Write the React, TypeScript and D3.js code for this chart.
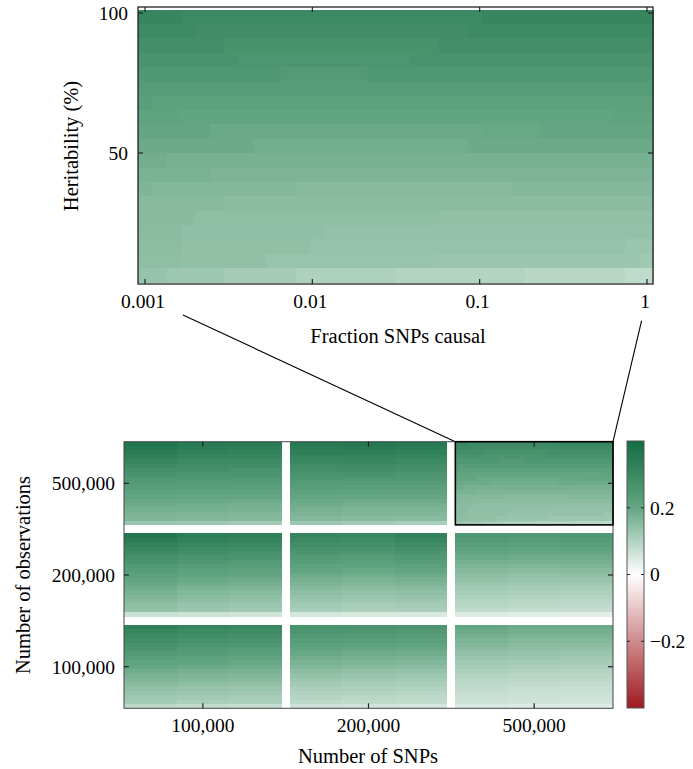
import React from "react";
import * as d3 from "d3";

// ---------- data ----------
const fractionCausal = [
  0.001, 0.001218, 0.001484, 0.001808, 0.002203, 0.002683, 0.00327, 0.003981, 0.004851,
  0.00591, 0.007197, 0.00877, 0.01068, 0.01301, 0.01585, 0.01931, 0.02352, 0.02866,
  0.0349, 0.04252, 0.0518, 0.0631, 0.07686, 0.09363, 0.1141, 0.1389, 0.1693, 0.2062,
  0.2512, 0.3059, 0.3728, 0.454, 0.5532, 0.6739, 0.8209, 1,
];
const heritabilityRows = [100, 95, 90, 85, 80, 75, 70, 65, 60, 55, 50, 45, 40, 35, 30, 25, 20, 15, 10];
const fracTicks = [0.001, 0.01, 0.1, 1];
const fracTickLabels = ["0.001", "0.01", "0.1", "1"];
const heritTicks = [100, 50];
const snpLabels = ["100,000", "200,000", "500,000"];
const obsLabels = ["500,000", "200,000", "100,000"];
const colorTicks = [0.2, 0, -0.2];
const colorTickLabels = ["0.2", "0", "\u22120.2"];
const colorStops = [-0.4, -0.2, 0, 0.2, 0.4];
const colorRange = ["#9e1a20", "#d08b8d", "#ffffff", "#64a683", "#136c42"];

// top heatmap (500,000 obs / 500,000 SNPs): rows of [startColumn, value] runs
const topH100 = [[0, 0.31], [3, 0.3], [24, 0.31]];
const topH95 = [[0, 0.295], [4, 0.285], [23, 0.295]];
const topH90 = [[0, 0.28], [6, 0.27], [21, 0.28]];
const topH85 = [[0, 0.265], [7, 0.255], [19, 0.265]];
const topH80 = [[0, 0.25], [10, 0.24], [16, 0.25]];
const topH75 = [[0, 0.235]];
const topH70 = [[0, 0.225], [1, 0.218]];
const topH65 = [[0, 0.212], [3, 0.205], [33, 0.212]];
const topH60 = [[0, 0.2], [5, 0.192], [24, 0.196], [28, 0.2]];
const topH55 = [[0, 0.19], [8, 0.183], [23, 0.19]];
const topH50 = [[0, 0.182], [2, 0.176]];
const topH45 = [[0, 0.172], [5, 0.166]];
const topH40 = [[0, 0.165], [1, 0.16], [11, 0.155], [26, 0.16]];
const topH35 = [[0, 0.155], [6, 0.15]];
const topH30 = [[0, 0.152], [4, 0.146], [21, 0.142]];
const topH25 = [[0, 0.15], [3, 0.144], [13, 0.139]];
const topH20 = [[0, 0.148], [3, 0.142], [12, 0.136], [34, 0.13]];
const topH15 = [[0, 0.146], [3, 0.14], [9, 0.133], [21, 0.128], [35, 0.122]];
const topH10 = [[0, 0.135], [2, 0.125], [6, 0.115], [11, 0.105], [18, 0.097], [27, 0.09], [34, 0.082]];
const topRuns = [
  topH100, topH95, topH90, topH85, topH80, topH75, topH70, topH65, topH60, topH55,
  topH50, topH45, topH40, topH35, topH30, topH25, topH20, topH15, topH10,
];

// bottom panels: values per heritability row for left / middle / right thirds
const obs500kSnp100kL = [0.37, 0.355, 0.34, 0.325, 0.31, 0.295, 0.28, 0.265, 0.25, 0.24, 0.228, 0.216, 0.205, 0.195, 0.186, 0.178, 0.17, 0.163, 0.13];
const obs500kSnp100kM = [0.35, 0.34, 0.327, 0.314, 0.3, 0.287, 0.274, 0.26, 0.247, 0.236, 0.225, 0.213, 0.202, 0.192, 0.183, 0.175, 0.167, 0.16, 0.125];
const obs500kSnp100kR = [0.345, 0.335, 0.322, 0.31, 0.297, 0.284, 0.27, 0.257, 0.244, 0.233, 0.222, 0.21, 0.2, 0.19, 0.18, 0.172, 0.164, 0.156, 0.118];
const obs500kSnp200kL = [0.355, 0.343, 0.33, 0.317, 0.303, 0.29, 0.277, 0.263, 0.25, 0.238, 0.226, 0.214, 0.203, 0.193, 0.184, 0.176, 0.168, 0.16, 0.125];
const obs500kSnp200kM = [0.36, 0.347, 0.333, 0.32, 0.306, 0.292, 0.278, 0.264, 0.25, 0.237, 0.225, 0.213, 0.201, 0.19, 0.18, 0.171, 0.163, 0.155, 0.118];
const obs500kSnp200kR = [0.35, 0.34, 0.327, 0.313, 0.3, 0.287, 0.273, 0.26, 0.247, 0.235, 0.223, 0.211, 0.2, 0.19, 0.18, 0.171, 0.162, 0.153, 0.112];
const obs200kSnp100kL = [0.365, 0.345, 0.327, 0.31, 0.293, 0.277, 0.262, 0.247, 0.233, 0.22, 0.207, 0.195, 0.184, 0.173, 0.163, 0.154, 0.146, 0.138, 0.07];
const obs200kSnp100kM = [0.34, 0.325, 0.31, 0.295, 0.28, 0.265, 0.25, 0.236, 0.222, 0.209, 0.196, 0.184, 0.173, 0.162, 0.152, 0.143, 0.135, 0.127, 0.065];
const obs200kSnp100kR = [0.33, 0.317, 0.302, 0.287, 0.272, 0.257, 0.243, 0.229, 0.215, 0.202, 0.19, 0.178, 0.167, 0.156, 0.146, 0.137, 0.129, 0.121, 0.06];
const obs200kSnp200kL = [0.315, 0.3, 0.285, 0.27, 0.256, 0.242, 0.228, 0.215, 0.202, 0.19, 0.178, 0.167, 0.156, 0.146, 0.137, 0.128, 0.12, 0.112, 0.055];
const obs200kSnp200kM = [0.305, 0.292, 0.278, 0.264, 0.25, 0.236, 0.222, 0.209, 0.196, 0.184, 0.172, 0.161, 0.15, 0.14, 0.131, 0.122, 0.114, 0.106, 0.05];
const obs200kSnp200kR = [0.325, 0.31, 0.294, 0.278, 0.262, 0.247, 0.232, 0.218, 0.204, 0.191, 0.178, 0.166, 0.155, 0.144, 0.134, 0.125, 0.116, 0.108, 0.05];
const obs200kSnp500kL = [0.25, 0.24, 0.228, 0.216, 0.204, 0.192, 0.18, 0.169, 0.158, 0.148, 0.138, 0.129, 0.12, 0.112, 0.104, 0.097, 0.09, 0.084, 0.045];
const obs200kSnp500kM = [0.245, 0.234, 0.222, 0.21, 0.198, 0.186, 0.175, 0.164, 0.153, 0.143, 0.133, 0.124, 0.115, 0.107, 0.099, 0.092, 0.085, 0.079, 0.04];
const obs200kSnp500kR = [0.25, 0.239, 0.227, 0.214, 0.201, 0.189, 0.177, 0.165, 0.154, 0.143, 0.133, 0.123, 0.114, 0.105, 0.097, 0.09, 0.083, 0.076, 0.038];
const obs100kSnp100kL = [0.33, 0.315, 0.3, 0.285, 0.27, 0.255, 0.24, 0.226, 0.212, 0.199, 0.186, 0.174, 0.163, 0.152, 0.142, 0.133, 0.124, 0.116, 0.085];
const obs100kSnp100kM = [0.315, 0.3, 0.286, 0.272, 0.258, 0.244, 0.23, 0.217, 0.204, 0.191, 0.179, 0.167, 0.156, 0.146, 0.136, 0.127, 0.118, 0.11, 0.08];
const obs100kSnp100kR = [0.305, 0.292, 0.278, 0.264, 0.25, 0.237, 0.224, 0.211, 0.198, 0.186, 0.174, 0.163, 0.152, 0.142, 0.132, 0.123, 0.115, 0.107, 0.075];
const obs100kSnp200kL = [0.27, 0.258, 0.245, 0.232, 0.219, 0.206, 0.194, 0.182, 0.17, 0.159, 0.148, 0.138, 0.128, 0.119, 0.11, 0.102, 0.095, 0.088, 0.065];
const obs100kSnp200kM = [0.265, 0.253, 0.24, 0.227, 0.214, 0.201, 0.189, 0.177, 0.165, 0.154, 0.143, 0.133, 0.123, 0.114, 0.106, 0.098, 0.091, 0.084, 0.06];
const obs100kSnp200kR = [0.26, 0.248, 0.235, 0.222, 0.209, 0.197, 0.185, 0.173, 0.161, 0.15, 0.139, 0.129, 0.119, 0.11, 0.102, 0.094, 0.087, 0.08, 0.055];
const obs100kSnp500kL = [0.2, 0.19, 0.18, 0.17, 0.16, 0.15, 0.141, 0.132, 0.123, 0.115, 0.107, 0.1, 0.093, 0.087, 0.081, 0.075, 0.07, 0.065, 0.05];
const obs100kSnp500kM = [0.19, 0.181, 0.171, 0.161, 0.152, 0.143, 0.134, 0.125, 0.117, 0.109, 0.101, 0.094, 0.087, 0.081, 0.075, 0.07, 0.065, 0.06, 0.045];
const obs100kSnp500kR = [0.19, 0.18, 0.17, 0.16, 0.15, 0.141, 0.132, 0.123, 0.115, 0.107, 0.099, 0.092, 0.085, 0.079, 0.073, 0.068, 0.063, 0.058, 0.045];

const FONT = "'Liberation Serif', 'DejaVu Serif', serif";

type Panel = { obs: string; snp: string; thirds?: number[][]; runs?: number[][][] };
const panels: Panel[] = [
  { obs: "500,000", snp: "100,000", thirds: [obs500kSnp100kL, obs500kSnp100kM, obs500kSnp100kR] },
  { obs: "500,000", snp: "200,000", thirds: [obs500kSnp200kL, obs500kSnp200kM, obs500kSnp200kR] },
  { obs: "500,000", snp: "500,000", runs: topRuns },
  { obs: "200,000", snp: "100,000", thirds: [obs200kSnp100kL, obs200kSnp100kM, obs200kSnp100kR] },
  { obs: "200,000", snp: "200,000", thirds: [obs200kSnp200kL, obs200kSnp200kM, obs200kSnp200kR] },
  { obs: "200,000", snp: "500,000", thirds: [obs200kSnp500kL, obs200kSnp500kM, obs200kSnp500kR] },
  { obs: "100,000", snp: "100,000", thirds: [obs100kSnp100kL, obs100kSnp100kM, obs100kSnp100kR] },
  { obs: "100,000", snp: "200,000", thirds: [obs100kSnp200kL, obs100kSnp200kM, obs100kSnp200kR] },
  { obs: "100,000", snp: "500,000", thirds: [obs100kSnp500kL, obs100kSnp500kM, obs100kSnp500kR] },
];

const color = d3.scaleLinear<string>().domain(colorStops).range(colorRange).clamp(true);

export default function App() {
  // ---------- top chart ----------
  const tL = 138, tR = 653, tT = 7, tB = 284;
  const x = d3.scaleLog().domain([0.001, 1]).range([145, 647]);
  const yH = d3.scaleLinear().domain([0, 100]).range([293, 13]);
  const rowBand = d3.scaleBand<number>().domain(heritabilityRows).range([9.5, 282.5]);
  const n = fractionCausal.length;
  const cx = fractionCausal.map((f) => x(f));
  const edges: number[] = [];
  edges.push(cx[0] - (cx[1] - cx[0]) / 2);
  for (let k = 1; k < n; k++) edges.push((cx[k - 1] + cx[k]) / 2);
  edges.push(cx[n - 1] + (cx[n - 1] - cx[n - 2]) / 2);

  const topCells: JSX.Element[] = [];
  topRuns.forEach((runs, ri) => {
    const h = heritabilityRows[ri];
    runs.forEach((run, j) => {
      const start = run[0];
      const end = j + 1 < runs.length ? runs[j + 1][0] : n;
      topCells.push(
        <rect key={`t${ri}-${j}`} x={edges[start]} y={rowBand(h)} width={edges[end] - edges[start]}
          height={rowBand.bandwidth()} fill={color(run[1])} />
      );
    });
  });

  // ---------- bottom chart ----------
  const bL = 124, bR = 613, bT = 441.7, bB = 708.3;
  const xs = d3.scaleBand<string>().domain(snpLabels).range([bL, bR]).paddingInner(0.0483);
  const ys = d3.scaleBand<string>().domain(obsLabels).range([bT, bB]).paddingInner(0.093);

  const panelCells: JSX.Element[] = [];
  panels.forEach((p, pi) => {
    const px = xs(p.snp)!, py = ys(p.obs)!;
    const pw = xs.bandwidth(), ph = ys.bandwidth();
    const rb = d3.scaleBand<number>().domain(heritabilityRows).range([py, py + ph]);
    const colX = d3.scaleLinear().domain([0, n]).range([px, px + pw]);
    if (p.thirds) {
      p.thirds.forEach((vals, ti) => {
        vals.forEach((v, ri) => {
          panelCells.push(
            <rect key={`p${pi}-${ti}-${ri}`} x={colX(ti * 12)} y={rb(heritabilityRows[ri])}
              width={colX((ti + 1) * 12) - colX(ti * 12)} height={rb.bandwidth()} fill={color(v)} />
          );
        });
      });
    } else if (p.runs) {
      p.runs.forEach((runs, ri) => {
        runs.forEach((run, j) => {
          const start = run[0];
          const end = j + 1 < runs.length ? runs[j + 1][0] : n;
          panelCells.push(
            <rect key={`p${pi}-${ri}-${j}`} x={colX(start)} y={rb(heritabilityRows[ri])}
              width={colX(end) - colX(start)} height={rb.bandwidth()} fill={color(run[1])} />
          );
        });
      });
    }
  });

  const hl = panels[2];
  const hx = xs(hl.snp)!, hy = ys(hl.obs)!;

  // ---------- colorbar ----------
  const cL = 627, cR = 644;
  const cy = d3.scaleLinear().domain([-0.4, 0.4]).range([708, 441]);
  const gradStops = d3.range(0, 1.0001, 0.05);

  const tick = "#222";

  return (
    <svg width={693} height={769} style={{ position: "absolute", left: 0, top: 0, background: "#fff" }}
      fontFamily={FONT}>
      <defs>
        <linearGradient id="cbar" x1="0" y1="1" x2="0" y2="0">
          {gradStops.map((t, i) => (
            <stop key={i} offset={t} stopColor={color(-0.4 + 0.8 * t)} />
          ))}
        </linearGradient>
      </defs>

      {/* top heatmap */}
      <g shapeRendering="crispEdges">{topCells}</g>
      <rect x={tL} y={tT} width={tR - tL} height={tB - tT} fill="none" stroke={tick} strokeWidth={1.3} />
      {fracTicks.map((f, i) => (
        <g key={`fx${i}`} stroke={tick} strokeWidth={1.2}>
          <line x1={x(f)} x2={x(f)} y1={tB} y2={tB - 5} />
          <line x1={x(f)} x2={x(f)} y1={tT} y2={tT + 5} />
        </g>
      ))}
      {heritTicks.map((h, i) => (
        <g key={`hy${i}`} stroke={tick} strokeWidth={1.2}>
          <line x1={tL} x2={tL + 5} y1={yH(h)} y2={yH(h)} />
          <line x1={tR} x2={tR - 5} y1={yH(h)} y2={yH(h)} />
        </g>
      ))}
      {fracTicks.map((f, i) => (
        <text key={`fl${i}`} x={x(f) - 2} y={308} textAnchor="middle" fontSize={19.5}>{fracTickLabels[i]}</text>
      ))}
      {heritTicks.map((h, i) => (
        <text key={`hl${i}`} x={128} y={yH(h)} dy="0.35em" textAnchor="end" fontSize={19.5}>{h}</text>
      ))}
      <text x={398} y={343} textAnchor="middle" fontSize={20.5}>Fraction SNPs causal</text>
      <text transform={`translate(78,146) rotate(-90)`} textAnchor="middle" fontSize={20.5}>Heritability (%)</text>

      {/* connector lines */}
      <line x1={183} y1={315} x2={hx} y2={hy} stroke="#000" strokeWidth={1.1} />
      <line x1={641.6} y1={320.7} x2={hx + xs.bandwidth()} y2={hy} stroke="#000" strokeWidth={1.1} />

      {/* bottom panels */}
      <g shapeRendering="crispEdges">{panelCells}</g>
      <rect x={bL} y={bT} width={bR - bL} height={bB - bT} fill="none" stroke="#444" strokeWidth={1} />
      <rect x={hx} y={hy} width={xs.bandwidth()} height={ys.bandwidth()} fill="none" stroke="#000" strokeWidth={1.6} />
      {snpLabels.map((s, i) => {
        const c = xs(s)! + xs.bandwidth() / 2;
        return (
          <g key={`sx${i}`}>
            <line x1={c} x2={c} y1={bB} y2={bB - 5} stroke={tick} strokeWidth={1.2} />
            <line x1={c} x2={c} y1={bT} y2={bT + 5} stroke={tick} strokeWidth={1.2} />
            <text x={c} y={731.5} textAnchor="middle" fontSize={19.5}>{s}</text>
          </g>
        );
      })}
      {obsLabels.map((o, i) => {
        const c = ys(o)! + ys.bandwidth() / 2;
        return (
          <g key={`oy${i}`}>
            <line x1={bL} x2={bL + 5} y1={c} y2={c} stroke={tick} strokeWidth={1.2} />
            <line x1={bR} x2={bR - 5} y1={c} y2={c} stroke={tick} strokeWidth={1.2} />
            <text x={115} y={c} dy="0.35em" textAnchor="end" fontSize={19.5}>{o}</text>
          </g>
        );
      })}
      <text x={368} y={763} textAnchor="middle" fontSize={20.5}>Number of SNPs</text>
      <text transform={`translate(30,575) rotate(-90)`} textAnchor="middle" fontSize={20.5}>Number of observations</text>

      {/* colorbar */}
      <rect x={cL} y={cy(0.4)} width={cR - cL} height={cy(-0.4) - cy(0.4)} fill="url(#cbar)" stroke="#555" strokeWidth={1} />
      {colorTicks.map((v, i) => (
        <g key={`ct${i}`}>
          <line x1={cR} x2={cR - 3} y1={cy(v)} y2={cy(v)} stroke={tick} strokeWidth={1} />
          <line x1={cL} x2={cL + 3} y1={cy(v)} y2={cy(v)} stroke={tick} strokeWidth={1} />
          <text x={650} y={cy(v)} dy="0.35em" fontSize={19.5}>{colorTickLabels[i]}</text>
        </g>
      ))}
    </svg>
  );
}
